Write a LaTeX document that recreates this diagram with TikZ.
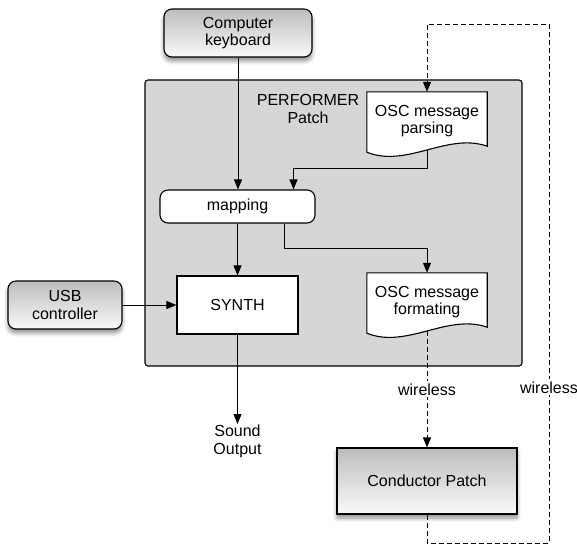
\documentclass[tikz,border=0pt]{standalone}
\usepackage{fontspec}
\setmainfont{Liberation Sans}
\usetikzlibrary{arrows.meta,shadows.blur,calc}

\tikzset{
	arr/.style={-{Triangle[length=10pt,width=8pt]}, line width=1pt},
	wifi/.style={arr, dash pattern=on 5pt off 3pt},
	gradbox/.style={draw, line width=1.1pt, top color=black!26, bottom color=black!2,
		blur shadow={shadow xshift=0pt, shadow yshift=-4pt, shadow blur radius=4pt, shadow opacity=45},
		align=center},
	plainbox/.style={draw, line width=1.1pt, fill=white, align=center},
	doctext/.style={align=center, minimum width=120pt, minimum height=58pt, inner sep=0pt},
	lbl/.style={fill=white, inner sep=2pt}
}

% document shape with a wavy bottom
\newcommand{\docshape}[1]{
	\draw[line width=1.1pt, fill=white] (#1.north west) -- (#1.north east)
		-- ($(#1.south east)+(0,-4)$) .. controls +(-40,-14) and +(40,16) .. ($(#1.south west)+(0,2)$) -- cycle;
}

\begin{document}
\begin{tikzpicture}[x=1pt, y=-1pt, font=\fontsize{16}{17.5}\selectfont]
	\useasboundingbox (0,0) rectangle (577,547);

	% Performer patch container:
	\node[draw, line width=1.1pt, fill=black!16, rounded corners=3pt, minimum width=377pt, minimum height=286pt] (perf) at (333.5,223) {};
	\node[align=center] (perflabel) at (308,109) {PERFORMER\\Patch};

	% Blocks:
	\node[gradbox, rounded corners=8pt, minimum width=148pt, minimum height=48pt, inner sep=0pt] (kbd) at (238,33) {Computer\\keyboard};
	\node[gradbox, rounded corners=8pt, minimum width=114pt, minimum height=48pt, inner sep=0pt] (usb) at (65,305) {USB\\controller};
	\node[gradbox, minimum width=180pt, minimum height=66pt] (cond) at (427,481) {Conductor Patch};
	\node[plainbox, rounded corners=8pt, minimum width=155pt, minimum height=33pt] (map) at (237.5,206.5) {mapping};
	\node[plainbox, minimum width=121pt, minimum height=58pt] (synth) at (237.5,305) {SYNTH};

	\node[doctext] (parse) at (427,121) {};
	\docshape{parse}
	\node[doctext] at (parse) {OSC message\\parsing};
	\node[doctext] (format) at (427,302) {};
	\docshape{format}
	\node[doctext] at (format) {OSC message\\formating};

	\node[anchor=north, align=center, inner sep=1pt] (sound) at (237.5,424) {Sound\\Output};

	\coordinate (loopB) at (549,543);
	\coordinate (loopT) at (549,24);

	% Wires:
	\draw[arr] (kbd.south) -- (kbd.south |- map.north);
	\draw[arr] (parse.south) -- ++(0,18) -| ($(map.north)+(56,0)$);
	\draw[arr] (map.south) -- (synth.north);
	\draw[arr] ($(map.south)+(46.5,0)$) -- ++(0,25) -| (format.north);
	\draw[arr] (usb.east) -- (synth.west);
	\draw[arr] (synth.south) -- (sound.north);
	\draw[wifi] (format.south) -- node[lbl] {wireless} (cond.north);
	\draw[wifi] (cond.south) |- (loopB) -- node[lbl, pos=0.3] {wireless} (loopT) -| (parse.north);
\end{tikzpicture}
\end{document}
